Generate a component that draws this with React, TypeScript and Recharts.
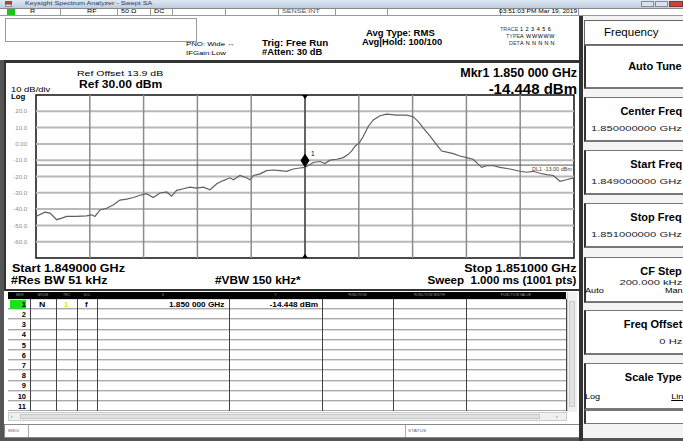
import React from "react";
import { LineChart, Line, XAxis, YAxis, ReferenceLine, ReferenceArea, ReferenceDot } from "recharts";

// frequency offset from start (kHz, start = 1.849000 GHz, span 2 MHz)
const freqKHz = [0, 33, 52, 77, 96, 114, 151, 188, 207, 219, 238, 263, 287, 312, 337, 362, 387, 411, 436, 461, 486, 504, 523, 548, 572, 597, 622, 647, 672, 696, 721, 734, 758, 783, 795, 808, 833, 857, 882, 907, 932, 956, 981, 1000, 1031, 1056, 1074, 1093, 1118, 1142, 1161, 1173, 1186, 1202, 1217, 1235, 1254, 1279, 1304, 1341, 1378, 1402, 1421, 1440, 1465, 1489, 1508, 1527, 1551, 1576, 1601, 1625, 1644, 1657, 1675, 1700, 1725, 1762, 1799, 1824, 1848, 1873, 1898, 1923, 1948, 1972, 2000];
// trace level (dBm)
const levelDbm = [-44.5, -41.9, -42.5, -46.5, -45.5, -44.5, -44.5, -44.1, -43.5, -44.5, -40.5, -39.5, -37.5, -34.5, -33.9, -32.9, -31.5, -30.5, -32.9, -30.1, -29.5, -32.1, -28.5, -27.5, -26.5, -27.1, -26.5, -28.1, -24.5, -22.5, -20.8, -22.0, -19.4, -20.8, -22.0, -19.4, -18.4, -16.4, -16.0, -16.4, -16.8, -15.4, -14.8, -14.448, -11.4, -10.8, -12.0, -10.0, -9.4, -8.4, -6.4, -4.4, -1.4, 0.6, 4.7, 10.7, 14.7, 17.3, 18.3, 17.7, 17.7, 16.7, 13.7, 9.7, 4.7, -0.4, -4.4, -5.0, -6.0, -7.4, -8.4, -9.4, -12.4, -14.4, -13.4, -13.4, -14.4, -15.4, -16.8, -17.4, -16.8, -18.0, -18.8, -19.4, -22.9, -22.0, -20.8];

const xGrid = [200, 400, 600, 800, 1000, 1200, 1400, 1600, 1800];
const yGrid = [20, 10, 0, -10, -20, -30, -40, -50, -60];
const yTickLabels = ["20.0", "10.0", "0.00", "-10.0", "-20.0", "-30.0", "-40.0", "-50.0", "-60.0"];
const refLevel = 30;
const bottomLevel = -70;
const displayLine = -13;
const markerFreq = 1000;
const markerLevel = -14.448;

const markerRows = [1, 2, 3, 4, 5, 6, 7, 8, 9, 10, 11];
const tableCols = [
  { name: "MKR", x: 10, w: 20 },
  { name: "MODE", x: 30, w: 26 },
  { name: "TRC", x: 56, w: 21 },
  { name: "SCL", x: 77, w: 20 },
  { name: "X", x: 97, w: 132 },
  { name: "Y", x: 229, w: 93 },
  { name: "FUNCTION", x: 322, w: 71 },
  { name: "FUNCTION WIDTH", x: 393, w: 73 },
  { name: "FUNCTION VALUE", x: 466, w: 100 },
];

const softkeys = [
  { label: "Auto Tune", value: "", top: 45, h: 44 },
  { label: "Center Freq", value: "1.850000000 GHz", top: 97, h: 45 },
  { label: "Start Freq", value: "1.849000000 GHz", top: 150, h: 45 },
  { label: "Stop Freq", value: "1.851000000 GHz", top: 203, h: 45 },
  { label: "CF Step", value: "200.000 kHz", top: 257, h: 46, left: "Auto", right: "Man" },
  { label: "Freq Offset", value: "0 Hz", top: 310, h: 45 },
  { label: "Scale Type", value: "", top: 363, h: 47, left: "Log", right: "Lin" },
];

const traceData = freqKHz.map((f, i) => ({ f, v: levelDbm[i] }));

const FONT = '"Liberation Sans", Arial, sans-serif';

type TP = { x: number; y: number; s?: number; b?: boolean; c?: string; r?: boolean; sx?: number; children: React.ReactNode; st?: React.CSSProperties };
const T = ({ x, y, s = 7, b = false, c = "#000", r = false, sx = 1, children, st }: TP) => (
  <div
    style={{
      position: "absolute",
      top: y - s / 2,
      ...(r ? { right: 683 - x } : { left: x }),
      fontSize: s,
      lineHeight: `${s}px`,
      fontWeight: b ? 700 : 400,
      color: c,
      whiteSpace: "pre",
      transform: sx !== 1 ? `scaleX(${sx})` : undefined,
      transformOrigin: r ? "right center" : "left center",
      ...st,
    }}
  >
    {children}
  </div>
);

const Box = ({ x, y, w, h, st }: { x: number; y: number; w: number; h: number; st?: React.CSSProperties }) => (
  <div style={{ position: "absolute", left: x, top: y, width: w, height: h, boxSizing: "border-box", ...st }} />
);

const triDown = (p: any) => (
  <path d={`M${p.cx - 3},${p.cy} L${p.cx + 3},${p.cy} L${p.cx},${p.cy + 4} Z`} fill="#000" />
);
const triUp = (p: any) => (
  <path d={`M${p.cx - 3},${p.cy} L${p.cx + 3},${p.cy} L${p.cx},${p.cy - 4} Z`} fill="#000" />
);
const diamond = (p: any) => (
  <g>
    <path d={`M${p.cx},${p.cy} L${p.cx + 4.5},${p.cy - 7} L${p.cx},${p.cy - 14} L${p.cx - 4.5},${p.cy - 7} Z`} fill="#000" />
    <text x={p.cx + 6} y={p.cy - 11} fontSize={6.5} fontFamily={FONT} fill="#000">1</text>
  </g>
);

export default function App() {
  return (
    <div style={{ position: "absolute", left: 0, top: 0, width: 683, height: 441, background: "#fff", overflow: "hidden", fontFamily: FONT, color: "#000" }}>
      {/* title bar */}
      <Box x={0} y={0} w={683} h={8} st={{ background: "linear-gradient(#dfe8f3,#bccde2)" }} />
      <Box x={5} y={1} w={7} h={3} st={{ background: "#c33" }} />
      <Box x={5} y={4} w={7} h={3} st={{ background: "#eee", border: "1px solid #888" }} />
      <T x={25} y={4} s={5.5} c="#334" sx={1.3}>Keysight Spectrum Analyzer - Swept SA</T>
      <Box x={641} y={1} w={13} h={6} st={{ background: "#d8e2ee", border: "1px solid #889" }} />
      <Box x={655} y={1} w={13} h={6} st={{ background: "#d8e2ee", border: "1px solid #889" }} />
      <Box x={669} y={1} w={14} h={6} st={{ background: "#c8443a", border: "1px solid #833" }} />

      {/* status row */}
      <Box x={0} y={8} w={683} h={8} st={{ background: "#fff", borderBottom: "1px solid #999", borderTop: "1px solid #888" }} />
      <Box x={7} y={9} w={8} h={6} st={{ background: "#18c818" }} />
      {[60, 117, 150, 172, 225, 278, 335, 387, 500, 578].map((x) => (
        <Box key={x} x={x} y={9} w={1} h={6} st={{ background: "#999" }} />
      ))}
      <T x={30} y={12} s={5.5} sx={1.3}>R</T>
      <T x={87} y={12} s={5.5} sx={1.3}>RF</T>
      <T x={121} y={12} s={5.5} sx={1.3}>50 Ω</T>
      <T x={154} y={12} s={5.5} sx={1.3}>DC</T>
      <T x={282} y={12} s={5.5} c="#555" sx={1.3}>SENSE:INT</T>
      <T x={577} y={12} s={5.5} r sx={1.2}>03:51:03 PM Mar 19, 2019</T>

      {/* info area */}
      <Box x={5} y={18} w={192} h={24} st={{ border: "1px solid #999" }} />
      <Box x={0} y={60} w={4} h={381} st={{ background: "#555" }} />
      <T x={186} y={44} s={6} sx={1.3}>PNO: Wide ↔</T>
      <T x={186} y={53} s={6} sx={1.3}>IFGain:Low</T>
      <T x={262} y={43} s={8.5} b sx={1.15}>Trig: Free Run</T>
      <T x={262} y={52} s={8.5} b sx={1.1}>#Atten: 30 dB</T>
      <T x={366} y={33} s={8.5} b sx={1.12}>Avg Type: RMS</T>
      <T x={362} y={42} s={8.5} b sx={1.1}>Avg|Hold: 100/100</T>
      <T x={500} y={30} s={4.5} c="#444" sx={1.2}>TRACE</T>
      <T x={520} y={30} s={5.5} c="#000" st={{ letterSpacing: 2.5 }}>123456</T>
      <T x={506} y={37} s={4.5} c="#444" sx={1.2}>TYPE</T>
      <T x={520} y={37} s={5.5} c="#000" st={{ letterSpacing: 0.6 }}>A WWWWW</T>
      <T x={509} y={44} s={4.5} c="#444" sx={1.2}>DET</T>
      <T x={520} y={44} s={5.5} c="#000" st={{ letterSpacing: 2.2 }}>ANNNNN</T>

      {/* graph panel */}
      <Box x={4} y={60} w={577} h={231} st={{ border: "2px solid #333", borderTopWidth: 3 }} />
      <T x={77} y={74} s={7.5} sx={1.4}>Ref Offset 13.9 dB</T>
      <T x={79} y={84} s={10.5} b sx={1.15}>Ref 30.00 dBm</T>
      <T x={11} y={90} s={6.5} sx={1.45}>10 dB/div</T>
      <T x={11} y={97} s={6.5} b sx={1.2}>Log</T>
      <T x={577} y={73} s={12.5} b r>Mkr1 1.850 000 GHz</T>
      <T x={577} y={88} s={15} b r>-14.448 dBm</T>
      <T x={12} y={268} s={11} b sx={1.14}>Start 1.849000 GHz</T>
      <T x={576} y={268} s={11} b r sx={1.14}>Stop 1.851000 GHz</T>
      <T x={11} y={280} s={10.5} b sx={1.18}>#Res BW 51 kHz</T>
      <T x={215} y={280} s={10.5} b sx={1.12}>#VBW 150 kHz*</T>
      <T x={576} y={280} s={10.5} b r sx={1.1}>Sweep  1.000 ms (1001 pts)</T>

      <div style={{ position: "absolute", left: 8, top: 91 }}>
        <LineChart width={570} height={171} data={traceData} margin={{ top: 4, right: 4, bottom: 4, left: 0 }}>
          <XAxis dataKey="f" type="number" domain={[0, 2000]} hide allowDataOverflow />
          <YAxis
            type="number"
            domain={[bottomLevel, refLevel]}
            ticks={yGrid}
            interval={0}
            width={28}
            axisLine={false}
            tickLine={false}
            tickMargin={3}
            tick={{ fontSize: 6, fill: "#8a8a8a", fontFamily: FONT }}
            tickFormatter={(v: number) => yTickLabels[yGrid.indexOf(v)] ?? ""}
          />
          {yGrid.map((y) => (
            <ReferenceLine key={"h" + y} y={y} stroke="#b8b8b8" strokeWidth={2} ifOverflow="visible" />
          ))}
          {xGrid.map((x) => (
            <ReferenceLine key={"v" + x} x={x} stroke="#8c8c8c" strokeWidth={1.5} ifOverflow="visible" />
          ))}
          <ReferenceLine
            y={displayLine}
            stroke="#555"
            strokeWidth={1}
            label={{ value: "DL1 -13.00 dBm", position: "insideTopRight", fontSize: 5.5, fill: "#444", offset: 2 }}
          />
          <ReferenceLine x={markerFreq} stroke="#222" strokeWidth={1} />
          <ReferenceArea x1={0} x2={2000} y1={bottomLevel} y2={refLevel} fill="none" stroke="#111" strokeWidth={1.5} ifOverflow="visible" />
          <Line dataKey="v" stroke="#606060" strokeWidth={1.2} dot={false} isAnimationActive={false} />
          <ReferenceDot x={markerFreq} y={refLevel} ifOverflow="visible" shape={triDown} />
          <ReferenceDot x={markerFreq} y={bottomLevel} ifOverflow="visible" shape={triUp} />
          <ReferenceDot x={markerFreq} y={markerLevel} ifOverflow="visible" shape={diamond} />
        </LineChart>
      </div>

      {/* marker table */}
      <Box x={8} y={292} w={558} h={7} st={{ background: "#000" }} />
      {tableCols.map((c) => (
        <div key={c.name} style={{ position: "absolute", left: c.x, top: 292, width: c.w, height: 7, fontSize: 3.5, lineHeight: "7px", color: "#999", textAlign: "center", whiteSpace: "nowrap", overflow: "hidden" }}>{c.name}</div>
      ))}
      {markerRows.map((r, i) => (
        <Box key={r} x={8} y={299 + i * 10.2} w={558} h={10.2} st={{ borderBottom: "1px solid #aaa", borderTop: "1px solid #ddd" }} />
      ))}
      {tableCols.slice(1).map((c) => (
        <Box key={"cl" + c.name} x={c.x} y={299} w={1} h={112} st={{ background: "#444" }} />
      ))}
      <Box x={566} y={299} w={1} h={112} st={{ background: "#444" }} />
      <Box x={10} y={300} w={16} h={9} st={{ background: "#22dd22" }} />
      {markerRows.map((r, i) => (
        <T key={"n" + r} x={26} y={304.5 + i * 10.2} s={7.5} b r>{String(r)}</T>
      ))}
      <T x={39} y={304.5} s={8} b sx={1.1}>N</T>
      <T x={64} y={304.5} s={8} b c="#e6e600">1</T>
      <T x={85} y={304.5} s={8} b>f</T>
      <T x={224} y={304.5} s={7.5} b r sx={1.1}>1.850 000 GHz</T>
      <T x={318} y={304.5} s={7.5} b r sx={1.1}>-14.448 dBm</T>
      {/* vertical scrollbar */}
      <Box x={567} y={292} w={10} h={120} st={{ background: "#f0f0f0", borderLeft: "1px solid #ccc" }} />
      <Box x={569} y={301} w={6} h={106} st={{ background: "#e2e2e2", border: "1px solid #ccc" }} />
      {/* horizontal scrollbar */}
      <Box x={8} y={412} w={559} h={9} st={{ background: "#f0f0f0", border: "1px solid #ccc" }} />
      <Box x={20} y={414} w={520} h={5} st={{ background: "#e0e0e0", border: "1px solid #c8c8c8" }} />
      <T x={11} y={416.5} s={5} c="#666">‹</T>
      <T x={556} y={416.5} s={5} c="#666">›</T>

      {/* bottom status bar */}
      <Box x={4} y={424} w={577} h={14} st={{ border: "1px solid #888", background: "#fff" }} />
      <Box x={28} y={425} w={1} h={12} st={{ background: "#aaa" }} />
      <Box x={405} y={425} w={1} h={12} st={{ background: "#aaa" }} />
      <T x={8} y={431} s={4} c="#666" sx={1.2}>MSG</T>
      <T x={408} y={431} s={4} c="#666" sx={1.2}>STATUS</T>
      <Box x={0} y={438} w={683} h={3} st={{ background: "#555" }} />

      {/* right softkey panel */}
      <Box x={579} y={16} w={4} h={425} st={{ background: "#333" }} />
      <Box x={583} y={16} w={100} h={422} st={{ background: "#f4f4f4" }} />
      <Box x={584} y={20} w={100} h={25} st={{ border: "1px solid #666", background: "#fff" }} />
      <T x={604} y={32} s={10.5} sx={1.1}>Frequency</T>
      {softkeys.map((k) => (
        <React.Fragment key={k.label}>
          <Box x={584} y={k.top} w={100} h={k.h} st={{ background: "#fff", borderTop: "1px solid #777", borderBottom: "2px solid #777", borderLeft: "2px solid #333" }} />
          <T x={682} y={k.top + (k.value || k.left ? 15 : 22)} s={10} b r sx={1.1}>{k.label}</T>
          {k.value ? <T x={682} y={k.top + (k.left ? 25 : 31)} s={7} r c="#222" sx={1.6}>{k.value}</T> : null}
          {k.left ? <T x={585} y={k.top + 33} s={7} sx={1.3}>{k.left}</T> : null}
          {k.right ? <T x={683} y={k.top + 33} s={7} r sx={1.3} st={{ textDecoration: k.right === "Lin" ? "underline" : "none" }}>{k.right}</T> : null}
        </React.Fragment>
      ))}
      <Box x={584} y={410} w={100} h={14} st={{ background: "#fff", borderTop: "1px solid #777", borderBottom: "1px solid #777", borderLeft: "2px solid #333" }} />
    </div>
  );
}
